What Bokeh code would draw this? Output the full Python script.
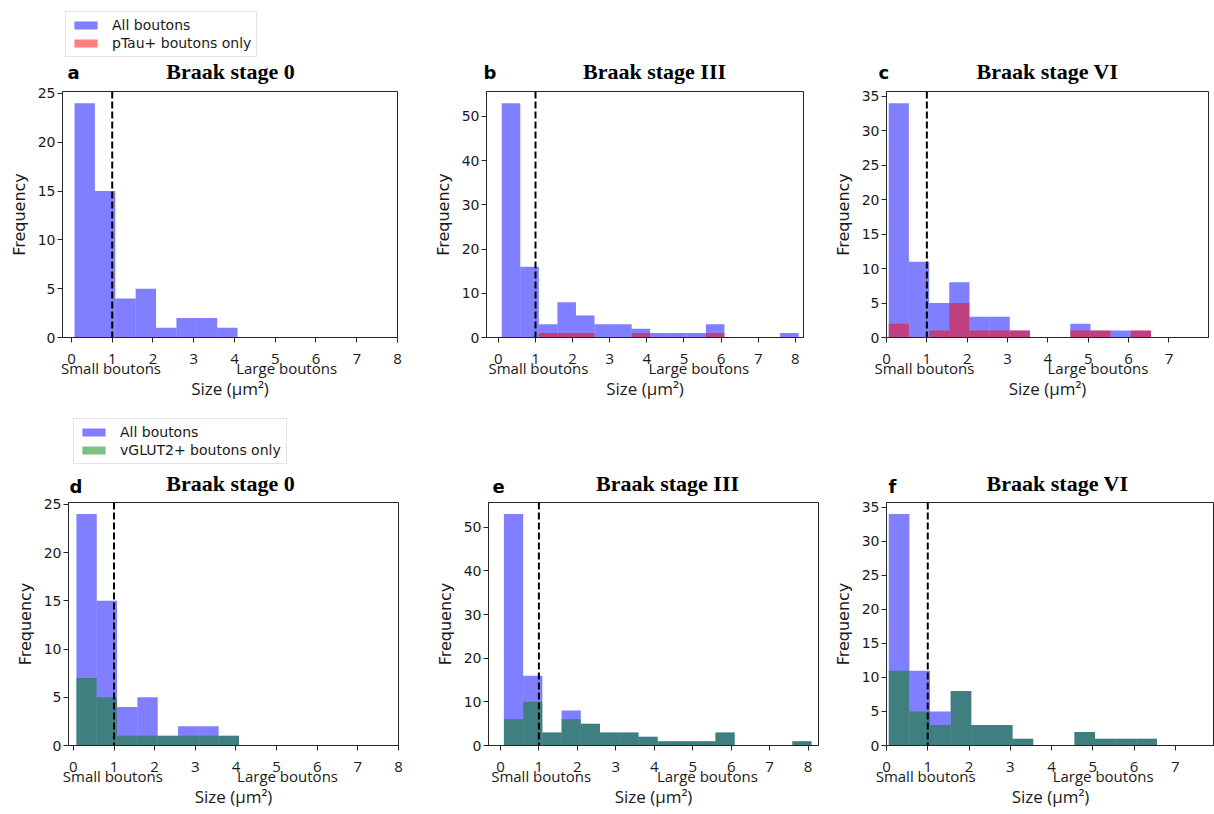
from bokeh.plotting import figure
from bokeh.layouts import column, row
from bokeh.models import (Range1d, FixedTicker, LinearAxis, CustomJSTickFormatter,
                          Span, Legend, LegendItem, ColumnDataSource)
from bokeh.core.properties import value
from bokeh.embed import file_html
from bokeh.resources import INLINE

# ---------------- data (histogram counts, bin width 0.5 µm²) ----------------
bin_width = 0.5
stage0_bin_start = 0.075
stage3_bin_start = 0.09
stage6_bin_start = 0.055

stage0_all = [24, 15, 4, 5, 1, 2, 2, 1]
stage0_ptau = [0, 0, 0, 0, 0, 0, 0, 0]
stage0_vglut2 = [7, 5, 1, 1, 1, 1, 1, 1]

stage3_all = [53, 16, 3, 8, 5, 3, 3, 2, 1, 1, 1, 3, 0, 0, 0, 1]
stage3_ptau = [0, 0, 1, 1, 1, 0, 0, 1, 0, 0, 0, 1, 0, 0, 0, 0]
stage3_vglut2 = [6, 10, 3, 6, 5, 3, 3, 2, 1, 1, 1, 3, 0, 0, 0, 1]

stage6_all = [34, 11, 5, 8, 3, 3, 1, 0, 0, 2, 1, 1, 1]
stage6_ptau = [2, 0, 1, 5, 1, 1, 1, 0, 0, 1, 1, 0, 1]
stage6_vglut2 = [11, 5, 3, 8, 3, 3, 1, 0, 0, 2, 1, 1, 1]

threshold = 1.0
x_ticks_full = [0, 1, 2, 3, 4, 5, 6, 7, 8]
x_ticks_short = [0, 1, 2, 3, 4, 5, 6, 7]
y_ticks_25 = [0, 5, 10, 15, 20, 25]
y_ticks_50 = [0, 10, 20, 30, 40, 50]
y_ticks_35 = [0, 5, 10, 15, 20, 25, 30, 35]
size_labels = ["Small boutons", "Large boutons"]
titles = ["Braak stage 0", "Braak stage III", "Braak stage VI"]
letters_top = ["a", "b", "c"]
letters_bottom = ["d", "e", "f"]
legend_all = "All boutons"
legend_ptau = "pTau+ boutons only"
legend_vglut2 = "vGLUT2+ boutons only"

ALL_COLOR = "blue"
PTAU_COLOR = "red"
VGLUT_COLOR = "green"
AXIS_COLOR = "#262626"
TEXT_COLOR = "#1a1a1a"
PAGE_W = 1214


def hist_source(start, counts):
    left, right, top = [], [], []
    for i, c in enumerate(counts):
        if c > 0:
            left.append(start + i * bin_width)
            right.append(start + (i + 1) * bin_width)
            top.append(c)
    return ColumnDataSource(dict(left=left, right=right, top=top, bottom=[0] * len(top)))


def make_panel(width, height, mb_left, mb_right, mb_top, mb_bottom,
               x_range, y_end, y_ticks, x_ticks, start, all_counts, sub_counts, sub_color,
               small_x, large_x):
    p = figure(width=width, height=height, output_backend="svg", toolbar_location=None,
               x_range=Range1d(*x_range), y_range=Range1d(0, y_end),
               min_border_left=mb_left, min_border_right=mb_right,
               min_border_top=mb_top, min_border_bottom=mb_bottom)
    p.grid.visible = False
    p.outline_line_color = AXIS_COLOR
    p.outline_line_width = 1
    p.background_fill_color = "white"

    p.quad(left="left", right="right", top="top", bottom="bottom",
           source=hist_source(start, all_counts),
           fill_color=ALL_COLOR, fill_alpha=0.5, line_color=None)
    p.quad(left="left", right="right", top="top", bottom="bottom",
           source=hist_source(start, sub_counts),
           fill_color=sub_color, fill_alpha=0.5, line_color=None)

    p.add_layout(Span(location=threshold, dimension="height", line_color="black",
                      line_dash="7 3", line_width=2))

    xa = p.xaxis[0]
    xa.ticker = FixedTicker(ticks=x_ticks)
    xa.major_tick_out = 5
    xa.major_tick_in = 0
    xa.minor_tick_out = 0
    xa.minor_tick_in = 0
    xa.axis_line_color = AXIS_COLOR
    xa.major_tick_line_color = AXIS_COLOR
    xa.major_label_standoff = 11
    xa.major_label_text_font = "Open Sans"
    xa.major_label_text_font_size = "15px"
    xa.major_label_text_color = TEXT_COLOR

    xa2 = LinearAxis(ticker=FixedTicker(ticks=[small_x, large_x]),
                     formatter=CustomJSTickFormatter(
                         code="return tick < 3 ? %r : %r;" % (size_labels[0], size_labels[1])),
                     major_tick_out=0, major_tick_in=0, minor_tick_out=0, minor_tick_in=0,
                     axis_line_color=None, major_label_standoff=-9,
                     major_label_text_font="Open Sans", major_label_text_font_size="15px",
                     major_label_text_color=TEXT_COLOR,
                     axis_label="Size (µm²)", axis_label_standoff=-4,
                     axis_label_text_font="Open Sans", axis_label_text_font_size="17px",
                     axis_label_text_font_style="normal", axis_label_text_color=TEXT_COLOR)
    p.add_layout(xa2, "below")

    ya = p.yaxis[0]
    ya.ticker = FixedTicker(ticks=y_ticks)
    ya.major_tick_out = 5
    ya.major_tick_in = 0
    ya.minor_tick_out = 0
    ya.minor_tick_in = 0
    ya.axis_line_color = AXIS_COLOR
    ya.major_tick_line_color = AXIS_COLOR
    ya.major_label_standoff = 2
    ya.major_label_text_font = "DejaVu Sans"
    ya.major_label_text_font_size = "14px"
    ya.major_label_text_color = TEXT_COLOR
    ya.axis_label = "Frequency"
    ya.axis_label_text_font = "DejaVu Sans"
    ya.axis_label_text_font_size = "16px"
    ya.axis_label_text_font_style = "normal"
    ya.axis_label_text_color = TEXT_COLOR
    ya.axis_label_standoff = 6
    return p


def make_header(height, sub_label, sub_color, legend_loc, letters, letter_x, letter_y,
                title_x, title_y):
    p = figure(width=PAGE_W, height=height, output_backend="svg", toolbar_location=None,
               x_range=Range1d(0, PAGE_W), y_range=Range1d(0, height),
               x_axis_type=None, y_axis_type=None, min_border=0)
    p.grid.visible = False
    p.outline_line_color = None
    off = dict(left=[-50], right=[-40], top=[-40], bottom=[-50])
    r1 = p.quad(left="left", right="right", top="top", bottom="bottom",
                source=ColumnDataSource(dict(off)), fill_color=ALL_COLOR, fill_alpha=0.5,
                line_color=None)
    r2 = p.quad(left="left", right="right", top="top", bottom="bottom",
                source=ColumnDataSource(dict(off)), fill_color=sub_color, fill_alpha=0.5,
                line_color=None)
    lg = Legend(items=[LegendItem(label=legend_all, renderers=[r1]),
                       LegendItem(label=sub_label, renderers=[r2])],
                location=legend_loc, orientation="vertical",
                label_text_font="DejaVu Sans", label_text_font_size="14px",
                label_text_color=TEXT_COLOR, glyph_width=29, glyph_height=10,
                label_standoff=12, padding=5, spacing=2, margin=0,
                border_line_color="#cccccc", border_line_width=1,
                background_fill_color="white", background_fill_alpha=1.0)
    p.add_layout(lg)

    p.text(x=letter_x, y=letter_y, text=letters, text_font=value("DejaVu Sans"),
           text_font_style="bold", text_font_size="18px", text_baseline="middle",
           text_align="left", text_color="black")
    p.text(x=title_x, y=title_y, text=titles, text_font=value("Liberation Serif"),
           text_font_style="bold", text_font_size="22px", text_baseline="middle",
           text_align="center", text_color="black")
    return p


# ---------------- top half (pTau) ----------------
head1 = make_header(84, legend_ptau, PTAU_COLOR, (65, 27), letters_top,
                    [67, 483, 878], [12.2, 12.2, 12.2], [230, 654, 1047], [13.4, 13.4, 13.4])

pa = make_panel(430, 321, 62, 33, 7, 68, (-0.22, 8.0), 25.2, y_ticks_25, x_ticks_full,
                stage0_bin_start, stage0_all, stage0_ptau, PTAU_COLOR, 0.97, 5.28)
pb = make_panel(400, 321, 52, 27, 7, 68, (-0.32, 8.22), 55.65, y_ticks_50, x_ticks_full,
                stage3_bin_start, stage3_all, stage3_ptau, PTAU_COLOR, 1.08, 5.4)
pc = make_panel(384, 321, 48, 6, 7, 68, (0.0, 7.98), 35.7, y_ticks_35, x_ticks_short,
                stage6_bin_start, stage6_all, stage6_ptau, PTAU_COLOR, 0.94, 5.24)

# ---------------- bottom half (vGLUT2) ----------------
head2 = make_header(92, legend_vglut2, VGLUT_COLOR, (73, 33), letters_bottom,
                    [69, 492, 888], [11.5, 11.5, 11.5], [230, 667, 1057], [14.0, 14.0, 14.0])

pd = make_panel(430, 317, 68, 32, 2, 69, (-0.12, 8.0), 25.2, y_ticks_25, x_ticks_full,
                stage0_bin_start, stage0_all, stage0_vglut2, VGLUT_COLOR, 0.97, 5.27)
pe = make_panel(400, 317, 58, 12, 5, 66, (-0.31, 8.27), 55.65, y_ticks_50, x_ticks_full,
                stage3_bin_start, stage3_all, stage3_vglut2, VGLUT_COLOR, 1.06, 5.38)
pf = make_panel(384, 317, 55, 0, 3, 67, (0.0, 7.95), 35.7, y_ticks_35, x_ticks_short,
                stage6_bin_start, stage6_all, stage6_vglut2, VGLUT_COLOR, 0.95, 5.25)

layout = column(head1, row(pa, pb, pc), head2, row(pd, pe, pf), spacing=0)

open("out.html", "w").write(file_html(layout, INLINE))
